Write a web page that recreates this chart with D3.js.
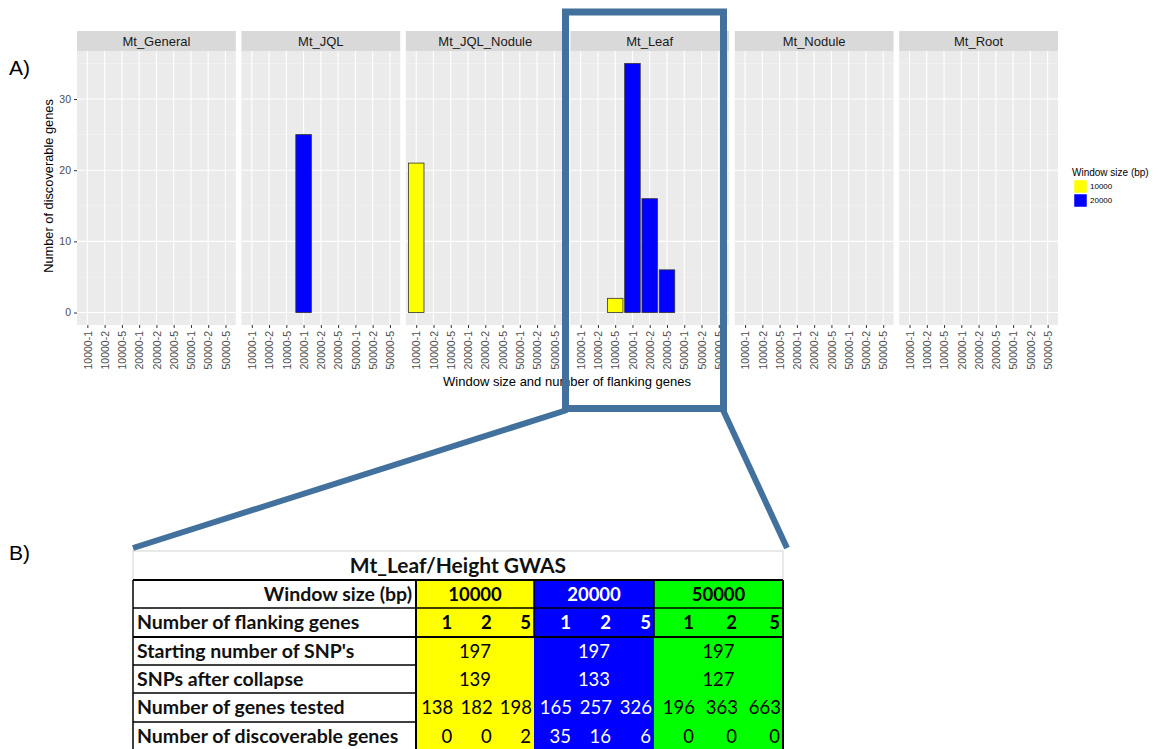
<!DOCTYPE html>
<html lang="en">
<head>
<meta charset="UTF-8">
<title>Discoverable genes</title>
<style>
  html, body { margin: 0; padding: 0; background: #fff; }
  svg { display: block; font-family: "Liberation Sans", Arial, sans-serif; }
</style>
</head>
<body>
<svg id="svg" width="1158" height="749"></svg>
<script src="https://d3js.org/d3.v7.min.js"></script>
<script>
// ---- chart data ----
const panels = ['Mt_General', 'Mt_JQL', 'Mt_JQL_Nodule', 'Mt_Leaf', 'Mt_Nodule', 'Mt_Root']
const categories = ['10000-1', '10000-2', '10000-5', '20000-1', '20000-2', '20000-5', '50000-1', '50000-2', '50000-5']
const barPanel = ['Mt_JQL', 'Mt_JQL_Nodule', 'Mt_Leaf', 'Mt_Leaf', 'Mt_Leaf', 'Mt_Leaf']
const barCategory = ['20000-1', '10000-1', '10000-5', '20000-1', '20000-2', '20000-5']
const barWindow = ['20000', '10000', '10000', '20000', '20000', '20000']
const barValue = [25, 21, 2, 35, 16, 6]
const yTicks = [0, 10, 20, 30]
const legendKeys = ['10000', '20000']

// ---- table data ----
const tableTitle = 'Mt_Leaf/Height GWAS'
const rowLabels = ['Window size (bp)', 'Number of flanking genes', "Starting number of SNP's",
  'SNPs after collapse', 'Number of genes tested', 'Number of discoverable genes']
const windowSizes = ['10000', '20000', '50000']
const flankingGenes = [1, 2, 5]
const startingSNPs = [197, 197, 197]
const snpsAfterCollapse = [139, 133, 127]
const genesTested = [138, 182, 198, 165, 257, 326, 196, 363, 663]
const discoverable = [0, 0, 2, 35, 16, 6, 0, 0, 0]

const svg = d3.select('#svg')

// panel layout
const plotTop = 51, plotBottom = 325, stripTop = 31
const panelScale = d3.scaleBand().domain(panels).range([77, 1058]).paddingInner(0.034)
const pw = panelScale.bandwidth()
const xscale = d3.scalePoint().domain(categories).range([0, pw]).padding(0.6)
const step = xscale.step()
const yscale = d3.scaleLinear().domain([-1.75, 36.75]).range([plotBottom, plotTop])
const colorScale = d3.scaleOrdinal().domain(legendKeys).range(['#FFFF00', '#0000FF'])

const bars = barValue.map((v, i) => ({ panel: barPanel[i], cat: barCategory[i], win: barWindow[i], value: v }))

panels.forEach(p => {
  const g = svg.append('g').attr('transform', `translate(${panelScale(p)},0)`)
  // strip
  g.append('rect').attr('x', 0).attr('y', stripTop).attr('width', pw).attr('height', plotTop - stripTop)
    .attr('fill', '#D9D9D9')
  g.append('text').attr('x', pw / 2).attr('y', (stripTop + plotTop) / 2).attr('dy', '0.35em')
    .attr('text-anchor', 'middle').attr('font-size', 13).attr('fill', '#1A1A1A').text(p)
  // background
  g.append('rect').attr('x', 0).attr('y', plotTop).attr('width', pw).attr('height', plotBottom - plotTop)
    .attr('fill', '#EBEBEB')
  // minor grid
  g.selectAll('.minor').data([5, 15, 25, 35]).enter().append('line')
    .attr('x1', 0).attr('x2', pw).attr('y1', d => yscale(d)).attr('y2', d => yscale(d))
    .attr('stroke', '#F5F5F5').attr('stroke-width', 0.6)
  // major grid
  g.selectAll('.hmajor').data(yTicks).enter().append('line')
    .attr('x1', 0).attr('x2', pw).attr('y1', d => yscale(d)).attr('y2', d => yscale(d))
    .attr('stroke', '#fff').attr('stroke-width', 1.1)
  g.selectAll('.vmajor').data(categories).enter().append('line')
    .attr('x1', d => xscale(d)).attr('x2', d => xscale(d)).attr('y1', plotTop).attr('y2', plotBottom)
    .attr('stroke', '#fff').attr('stroke-width', 1.1)
  // bars
  g.selectAll('.bar').data(bars.filter(b => b.panel === p)).enter().append('rect')
    .attr('x', d => xscale(d.cat) - step * 0.45)
    .attr('width', step * 0.9)
    .attr('y', d => yscale(d.value))
    .attr('height', d => yscale(0) - yscale(d.value))
    .attr('fill', d => colorScale(d.win))
    .attr('stroke', '#333').attr('stroke-width', 0.8)
  // x axis
  const ax = g.append('g').attr('transform', `translate(0,${plotBottom})`)
    .call(d3.axisBottom(xscale).tickSize(3).tickPadding(3))
  ax.select('.domain').remove()
  ax.selectAll('line').attr('stroke', '#333')
  ax.selectAll('text')
    .attr('transform', 'rotate(-90)')
    .attr('x', -6).attr('y', 0).attr('dy', '0.35em')
    .attr('text-anchor', 'end')
    .attr('font-size', 10.5).attr('font-family', '"Liberation Sans", Arial, sans-serif')
    .attr('fill', '#4D4D4D')
})

// y axis
const leftAxis = svg.append('g').attr('transform', `translate(${panelScale(panels[0])},0)`)
  .call(d3.axisLeft(yscale).tickValues(yTicks).tickSize(3).tickPadding(3))
leftAxis.select('.domain').remove()
leftAxis.selectAll('line').attr('stroke', '#333')
leftAxis.selectAll('text').attr('font-size', 10.5).attr('fill', '#4D4D4D')
  .attr('font-family', '"Liberation Sans", Arial, sans-serif')

// axis titles
svg.append('text').attr('transform', 'rotate(-90)')
  .attr('x', -(plotTop + plotBottom) / 2 + 2).attr('y', 53)
  .attr('text-anchor', 'middle').attr('font-size', 12.8).attr('fill', '#000')
  .text('Number of discoverable genes')
svg.append('text').attr('x', 567).attr('y', 386)
  .attr('text-anchor', 'middle').attr('font-size', 13).attr('fill', '#000')
  .text('Window size and number of flanking genes')

// legend
const legend = svg.append('g').attr('transform', 'translate(1072,168)')
legend.append('text').attr('x', 0).attr('y', 8).attr('font-size', 10).attr('fill', '#000')
  .text('Window size (bp)')
legendKeys.forEach((k, i) => {
  legend.append('rect').attr('x', 2).attr('y', 12 + i * 14).attr('width', 13).attr('height', 13)
    .attr('fill', colorScale(k)).attr('stroke', '#fff').attr('stroke-width', 0.5)
  legend.append('text').attr('x', 18).attr('y', 18.5 + i * 14).attr('dy', '0.35em')
    .attr('font-size', 8).attr('fill', '#000').text(k)
})

// panel labels
svg.append('text').attr('x', 9).attr('y', 75).attr('font-size', 21).attr('fill', '#000').text('A)')
svg.append('text').attr('x', 9).attr('y', 560).attr('font-size', 21).attr('fill', '#000').text('B)')

// ---- table ----
const tf = 'Lato, "Open Sans", sans-serif'
const tblLeft = 133, labelRight = 416, tblRight = 783
const groupEdges = [416, 534, 654, 783]
const rowEdges = [580, 608, 637, 665, 693, 722, 751]
const groupFill = ['#FFFF00', '#0000FF', '#00FF00']
const groupText = ['#000', '#fff', '#000']
const table = svg.append('g')

// title row
table.append('rect').attr('x', tblLeft).attr('y', 551).attr('width', tblRight - tblLeft).attr('height', 29)
  .attr('fill', '#fff').attr('stroke', '#D4D4D4').attr('stroke-width', 1)
table.append('text').attr('x', 458).attr('y', 573)
  .attr('text-anchor', 'middle').attr('font-family', tf).attr('font-weight', 'bold')
  .attr('font-size', 21).attr('fill', '#111').text(tableTitle)

// coloured groups
windowSizes.forEach((w, gi) => {
  const x0 = groupEdges[gi], x1 = groupEdges[gi + 1]
  const cw = (x1 - x0) / 3
  table.append('rect').attr('x', x0).attr('y', rowEdges[0]).attr('width', x1 - x0)
    .attr('height', rowEdges[6] - rowEdges[0]).attr('fill', groupFill[gi])
  const txt = (x, y, s, anchor, bold) => table.append('text').attr('x', x).attr('y', y)
    .attr('text-anchor', anchor).attr('font-family', tf).attr('font-size', bold ? 18.5 : 18.5)
    .attr('font-weight', bold ? 'bold' : 'normal').attr('fill', groupText[gi]).text(s)
  const base = r => (rowEdges[r] + rowEdges[r + 1]) / 2 + 6.5
  txt((x0 + x1) / 2, base(0), w, 'middle', true)
  flankingGenes.forEach((f, j) => txt(x0 + cw * (j + 1) - 3, base(1), f, 'end', true))
  txt((x0 + x1) / 2, base(2), startingSNPs[gi], 'middle', false)
  txt((x0 + x1) / 2, base(3), snpsAfterCollapse[gi], 'middle', false)
  flankingGenes.forEach((f, j) => txt(x0 + cw * (j + 1) - 2, base(4), genesTested[gi * 3 + j], 'end', false))
  flankingGenes.forEach((f, j) => txt(x0 + cw * (j + 1) - 3, base(5), discoverable[gi * 3 + j], 'end', false))
})

// row labels
rowLabels.forEach((lab, r) => {
  const y = (rowEdges[r] + rowEdges[r + 1]) / 2 + 6.5
  table.append('text')
    .attr('x', r === 0 ? labelRight - 4 : tblLeft + 4).attr('y', y)
    .attr('text-anchor', r === 0 ? 'end' : 'start')
    .attr('font-family', tf).attr('font-weight', 'bold').attr('font-size', 19.5).attr('fill', '#111')
    .text(lab)
})

// table borders
const line = (x1, y1, x2, y2, w) => table.append('line').attr('x1', x1).attr('y1', y1)
  .attr('x2', x2).attr('y2', y2).attr('stroke', '#000').attr('stroke-width', w || 1.5)
line(tblLeft, rowEdges[0], tblRight, rowEdges[0], 2)
line(tblLeft, rowEdges[1], tblRight, rowEdges[1])
line(tblLeft, rowEdges[2], tblRight, rowEdges[2], 2)
rowEdges.slice(3, 6).forEach(y => line(tblLeft, y, labelRight, y))
line(tblLeft, rowEdges[0], tblLeft, 751)
line(labelRight, rowEdges[0], labelRight, 751, 2)
line(tblRight, rowEdges[0], tblRight, 751, 2)
groupEdges.slice(1, 3).forEach(x => line(x, rowEdges[0], x, rowEdges[2]))

// callout frame and connecting lines
const frameColor = '#41719C'
svg.append('rect').attr('x', 565.5).attr('y', 12).attr('width', 158).attr('height', 396.5)
  .attr('fill', 'none').attr('stroke', frameColor).attr('stroke-width', 7)
svg.append('line').attr('x1', 567).attr('y1', 410).attr('x2', 133).attr('y2', 548)
  .attr('stroke', frameColor).attr('stroke-width', 6)
svg.append('line').attr('x1', 723).attr('y1', 410).attr('x2', 787).attr('y2', 548)
  .attr('stroke', frameColor).attr('stroke-width', 6)
</script>
</body>
</html>
